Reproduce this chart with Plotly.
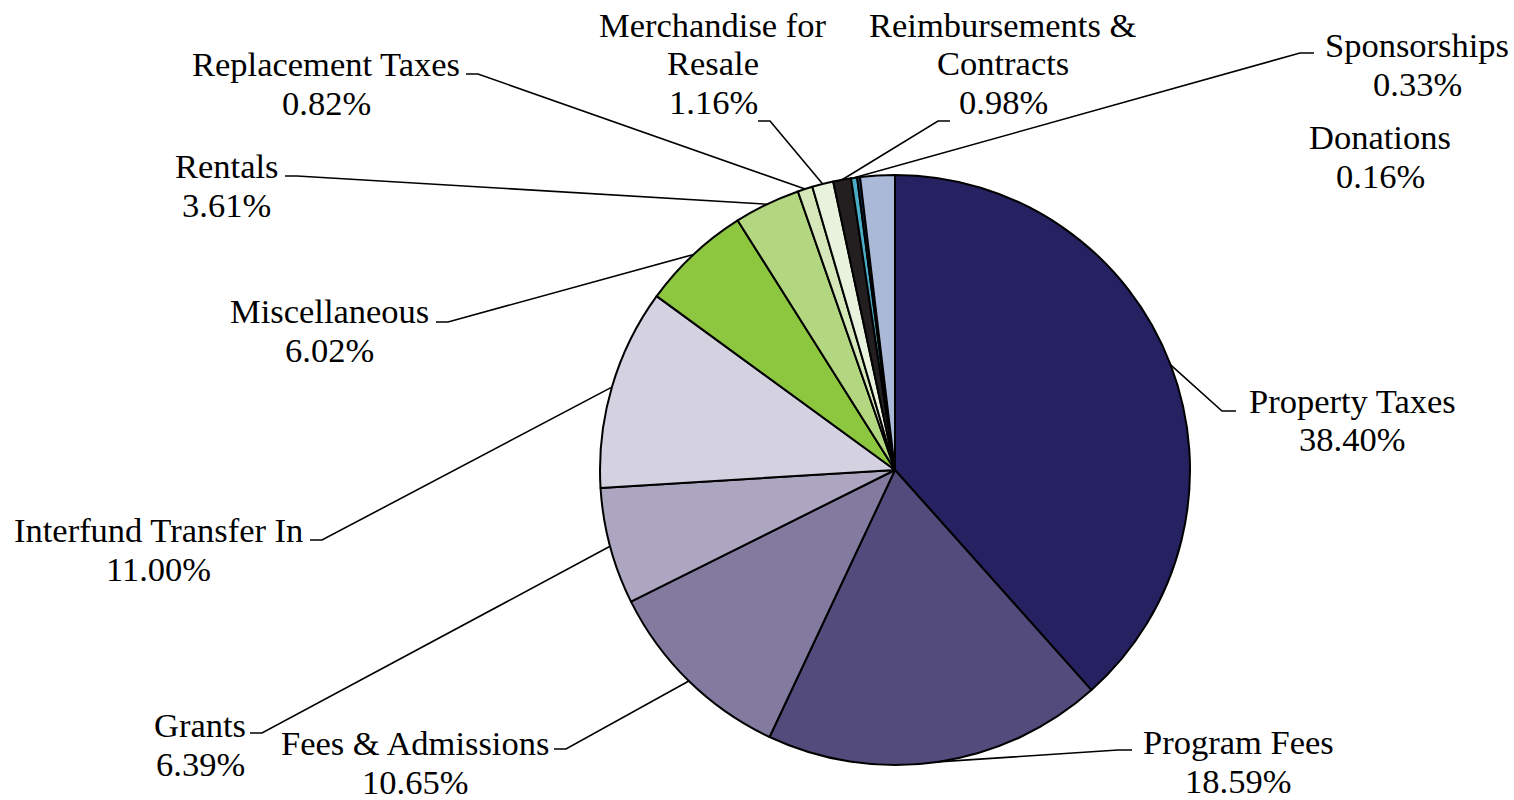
import math
import plotly.graph_objects as go

# Revenue sources, in pie order (clockwise from 12 o'clock)
categories = [
    "Property Taxes", "Program Fees", "Fees & Admissions", "Grants",
    "Interfund Transfer In", "Miscellaneous", "Rentals", "Replacement Taxes",
    "Merchandise for Resale", "Reimbursements & Contracts", "Sponsorships",
    "Donations", "Other",
]
# Share of total revenue (%)
shares = [38.40, 18.59, 10.65, 6.39, 11.00, 6.02, 3.61, 0.82, 1.16, 0.98, 0.33, 0.16, 1.89]
# Label text lines (category name split for display; "Other" carries no label)
label_lines = [
    ["Property Taxes"], ["Program Fees"], ["Fees & Admissions"], ["Grants"],
    ["Interfund Transfer In"], ["Miscellaneous"], ["Rentals"], ["Replacement Taxes"],
    ["Merchandise for", "Resale"], ["Reimbursements &", "Contracts"], ["Sponsorships"],
    ["Donations"], None,
]
colors = [
    "#262262", "#524b7b", "#837b9f", "#aca6c1", "#d4d1e0", "#8dc63f", "#b3d680",
    "#d6e7b9", "#e9f2dc", "#231f20", "#4bacc6", "#1f3a6e", "#aab9d8",
]

W, H = 1514, 800
CX, CY, R = 895, 470, 295          # pie centre and radius in pixels
FONT = "Liberation Serif"
FSIZE = 34.5
LINE_GAP = 38.5                    # distance between label text lines

# Label placement: text centre x, first-line centre y, leader elbow and stub end
label_layout = {
    "Property Taxes":             dict(tx=1352, ty=401, elbow=(1222, 411), stub=1236),
    "Program Fees":               dict(tx=1238, ty=742, elbow=(1118, 750), stub=1132),
    "Fees & Admissions":          dict(tx=415, ty=743, elbow=(566, 749), stub=554),
    "Grants":                     dict(tx=200, ty=725, elbow=(262, 733), stub=250),
    "Interfund Transfer In":      dict(tx=158, ty=530, elbow=(322, 540), stub=310),
    "Miscellaneous":              dict(tx=329, ty=311, elbow=(448, 322), stub=436),
    "Rentals":                    dict(tx=226, ty=166, elbow=(297, 176), stub=285),
    "Replacement Taxes":          dict(tx=326, ty=64, elbow=(478, 74), stub=466),
    "Merchandise for Resale":     dict(tx=713, ty=25, elbow=(770, 121), stub=758),
    "Reimbursements & Contracts": dict(tx=1003, ty=25, elbow=(938, 121), stub=950),
    "Sponsorships":               dict(tx=1417, ty=45, elbow=(1300, 53), stub=1314),
    "Donations":                  dict(tx=1380, ty=137, elbow=None, stub=None),
}


def px(x):
    return x / W


def py(y):
    return 1 - y / H


fig = go.Figure(
    go.Pie(
        labels=categories,
        values=shares,
        sort=False,
        direction="clockwise",
        rotation=0,
        marker=dict(colors=colors, line=dict(color="#000000", width=2)),
        textinfo="none",
        hoverinfo="label+percent",
        showlegend=False,
        domain=dict(x=[px(CX - R), px(CX + R)], y=[py(CY + R), py(CY - R)]),
    )
)

total = sum(shares)
annotations = []
shapes = []
cum = 0.0
for name, val, lines in zip(categories, shares, label_lines):
    mid = (cum + val / 2) / total
    cum += val
    if lines is None:
        continue
    spec = label_layout[name]
    for k, line in enumerate(lines + [f"{val:.2f}%"]):
        annotations.append(dict(
            x=px(spec["tx"]), y=py(spec["ty"] + k * LINE_GAP), xref="paper", yref="paper",
            text=line, showarrow=False, xanchor="center", yanchor="middle",
            font=dict(family=FONT, size=FSIZE, color="#000000"),
        ))
    if spec["elbow"] is None:
        continue
    theta = 2 * math.pi * mid
    ex = CX + R * math.sin(theta)
    ey = CY - R * math.cos(theta)
    bx, by = spec["elbow"]
    sx = spec["stub"]
    path = f"M {px(ex)},{py(ey)} L {px(bx)},{py(by)} L {px(sx)},{py(by)}"
    shapes.append(dict(type="path", xref="paper", yref="paper", path=path,
                       line=dict(color="#000000", width=1.6)))

fig.update_layout(
    width=W, height=H,
    margin=dict(l=0, r=0, t=0, b=0),
    paper_bgcolor="#ffffff", plot_bgcolor="#ffffff",
    annotations=annotations, shapes=shapes,
)

fig.write_html("out.html")
